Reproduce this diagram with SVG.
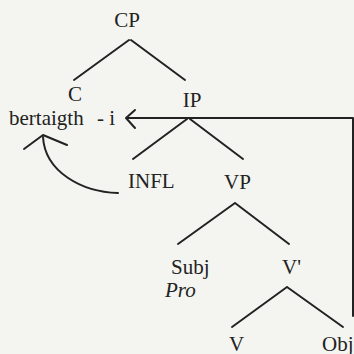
<svg xmlns="http://www.w3.org/2000/svg" width="354" height="354" viewBox="0 0 354 354">
  <style>
    .lbl { font-family: "Liberation Serif", "Times New Roman", serif; font-size: 21px; fill: #222; }
    .it { font-style: italic; }
    .edge { stroke: #222; stroke-width: 2; fill: none; stroke-linecap: round; stroke-linejoin: round; }
  </style>
  <rect width="354" height="354" fill="#f4f5f0"/>

  <!-- tree branches and movement arrows -->
  <g id="connectors" class="edge">
    <path d="M129,40 L74,80 M131,40 L185,80"/>
    <path d="M187,119 L133,159 M190,119 L243,159"/>
    <path d="M235,203 L178,244 M235,203 L289,244"/>
    <path d="M287,287 L232,327 M287,287 L343,327"/>
    <!-- object trace back up to -i -->
    <path d="M353,316 L353,118 L127,118"/>
    <path d="M135,110 L126,118 L135,128"/>
    <!-- INFL raised to C -->
    <path d="M118,193 C82,192 45,172 43,137"/>
    <path d="M24,149 L43,135 L67,145"/>
  </g>

  <g id="CP"><text class="lbl" x="127" y="27" text-anchor="middle">CP</text></g>
  <g id="C"><text class="lbl" x="75" y="101" text-anchor="middle">C</text></g>
  <g id="C-word">
    <text class="lbl" x="9" y="125">bertaigth</text>
    <text class="lbl" x="97" y="125">- i</text>
  </g>
  <g id="IP"><text class="lbl" x="192" y="107" text-anchor="middle">IP</text></g>
  <g id="INFL"><text class="lbl" x="128" y="188">INFL</text></g>
  <g id="VP"><text class="lbl" x="224" y="189">VP</text></g>
  <g id="Subj">
    <text class="lbl" x="171" y="274">Subj</text>
    <text class="lbl it" x="165" y="297">Pro</text>
  </g>
  <g id="Vbar"><text class="lbl" x="282" y="274">V'</text></g>
  <g id="V"><text class="lbl" x="229" y="351">V</text></g>
  <g id="Obj"><text class="lbl" x="322" y="351">Obj</text></g>
</svg>
